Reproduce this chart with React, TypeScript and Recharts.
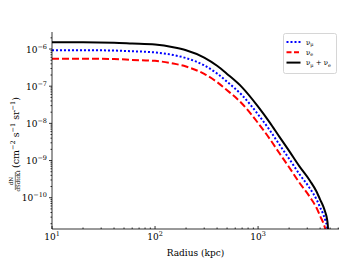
import { LineChart, Line, XAxis, YAxis, Legend } from "recharts"

// radius in kpc, flux values
const radius = [10, 20, 40, 60, 100, 150, 200, 300, 400, 500, 700, 1000, 1300, 1600, 2000, 2500, 3200, 3700, 4000, 4300, 4500, 4650, 4750, 4800, 4830]
const nuMu = [9.3e-7, 9.3e-7, 9.1e-7, 8.7e-7, 8.1e-7, 6.9e-7, 5.7e-7, 3.64e-7, 2.19e-7, 1.32e-7, 5.7e-8, 1.74e-8, 6.5e-9, 2.76e-9, 1.12e-9, 4.44e-10, 1.74e-10, 8.9e-11, 5.5e-11, 3.55e-11, 2.46e-11, 1.74e-11, 1.1e-11, 4.9e-12, 6e-13]
const nuE = [5.5e-7, 5.5e-7, 5.4e-7, 5.1e-7, 4.8e-7, 4.07e-7, 3.38e-7, 2.14e-7, 1.29e-7, 7.8e-8, 3.38e-8, 1.02e-8, 3.81e-9, 1.62e-9, 6.6e-10, 2.61e-10, 1.02e-10, 5.3e-11, 3.23e-11, 2.09e-11, 1.44e-11, 1.02e-11, 6.5e-12, 2.9e-12, 3.6e-13]
const nuTotal = [1.51e-6, 1.51e-6, 1.48e-6, 1.41e-6, 1.32e-6, 1.12e-6, 9.3e-7, 5.9e-7, 3.55e-7, 2.14e-7, 9.3e-8, 2.82e-8, 1.05e-8, 4.47e-9, 1.82e-9, 7.2e-10, 2.82e-10, 1.45e-10, 8.9e-11, 5.75e-11, 3.98e-11, 2.82e-11, 1.78e-11, 7.9e-12, 1e-12]

const xMajor = [10, 100, 1000]
const xMinor = [20, 30, 40, 50, 60, 70, 80, 90, 200, 300, 400, 500, 600, 700, 800, 900, 2000, 3000, 4000, 5000, 6000]
const yMajor = [1e-10, 1e-9, 1e-8, 1e-7, 1e-6]
const yMinor = [
  2e-11, 3e-11, 4e-11, 5e-11, 6e-11, 7e-11, 8e-11, 9e-11,
  2e-10, 3e-10, 4e-10, 5e-10, 6e-10, 7e-10, 8e-10, 9e-10,
  2e-9, 3e-9, 4e-9, 5e-9, 6e-9, 7e-9, 8e-9, 9e-9,
  2e-8, 3e-8, 4e-8, 5e-8, 6e-8, 7e-8, 8e-8, 9e-8,
  2e-7, 3e-7, 4e-7, 5e-7, 6e-7, 7e-7, 8e-7, 9e-7,
  2e-6,
]

const data = radius.map((r, i) => ({ r, mu: nuMu[i], e: nuE[i], total: nuTotal[i] }))

const FONT = "DejaVu Serif"

function exponent(v: number) {
  return String(Math.round(Math.log10(v))).replace("-", "\u2212")
}

function XTick(props: any) {
  const { x, y, payload } = props
  const major = xMajor.includes(payload.value)
  return (
    <g>
      <line x1={x} x2={x} y1={y} y2={y - (major ? 3 : 1.5)} stroke="#000" strokeWidth={0.8} />
      {major && (
        <text x={x} y={y + 11} textAnchor="middle" fontSize={9} fontFamily={FONT} fill="#000">
          10<tspan dy={-4} fontSize={6.5}>{exponent(payload.value)}</tspan>
        </text>
      )}
    </g>
  )
}

function YTick(props: any) {
  const { x, y, payload } = props
  const major = yMajor.includes(payload.value)
  return (
    <g>
      <line x1={x} x2={x - (major ? 3 : 1.5)} y1={y} y2={y} stroke="#000" strokeWidth={0.8} />
      {major && (
        <text x={x - 5} y={y + 3.5} textAnchor="end" fontSize={9} fontFamily={FONT} fill="#000">
          10<tspan dy={-4} fontSize={6.5}>{exponent(payload.value)}</tspan>
        </text>
      )}
    </g>
  )
}

function YLabel() {
  return (
    <g transform="translate(15,134) rotate(-90)" fontFamily={FONT} fill="#000">
      <text x={-47} y={-2} textAnchor="middle" fontSize={5.5}>dN</text>
      <line x1={-56} x2={-38} y1={0.3} y2={0.3} stroke="#000" strokeWidth={0.5} />
      <text x={-47} y={5} textAnchor="middle" fontSize={5.5}>dSdtdΩ</text>
      <text x={-34} y={3.5} fontSize={9.5}>
        (cm<tspan dy={-3.5} fontSize={6.5}>−2</tspan>
        <tspan dy={3.5}>{"\u00a0s"}</tspan>
        <tspan dy={-3.5} fontSize={6.5}>−1</tspan>
        <tspan dy={3.5}>{"\u00a0sr"}</tspan>
        <tspan dy={-3.5} fontSize={6.5}>−1</tspan>
        <tspan dy={3.5}>)</tspan>
      </text>
    </g>
  )
}

function LegendBox() {
  const rows = [
    { color: "#0000ff", dash: "2 2", sub1: "μ", extra: false },
    { color: "#ff0000", dash: "5 2.5", sub1: "e", extra: false },
    { color: "#000000", dash: undefined, sub1: "μ", extra: true },
  ]
  return (
    <svg width={55} height={42} style={{ display: "block" }}>
      <rect x={0.5} y={0.5} width={53} height={40} rx={2} fill="#fff" fillOpacity={0.8} stroke="#cccccc" strokeWidth={0.8} />
      {rows.map((row, i) => {
        const cy = 9 + i * 10.3
        return (
          <g key={i}>
            <line x1={3.5} x2={17.5} y1={cy} y2={cy} stroke={row.color} strokeWidth={2} strokeDasharray={row.dash} />
            <text x={23} y={cy + 2.5} fontSize={7} fontFamily={FONT} fill="#000">
              ν<tspan dy={1.5} fontSize={5}>{row.sub1}</tspan>
              {row.extra && (
                <>
                  <tspan dy={-1.5}>{"\u00a0+\u00a0ν"}</tspan>
                  <tspan dy={1.5} fontSize={5}>e</tspan>
                </>
              )}
            </text>
          </g>
        )
      })}
    </svg>
  )
}

export default function App() {
  return (
    <div style={{ position: "absolute", left: 0, top: 0, width: 349, height: 262, background: "#fff" }}>
      <LineChart width={349} height={262} data={data} margin={{ top: 32, right: 10, bottom: 0, left: 0 }}>
        <XAxis
          dataKey="r"
          type="number"
          scale="log"
          domain={[10, 6100]}
          allowDataOverflow
          ticks={[...xMajor, ...xMinor]}
          interval={0}
          tickSize={0}
          tickMargin={0}
          tick={<XTick />}
          axisLine={{ stroke: "#000", strokeWidth: 0.8 }}
          height={33}
          label={{
            value: "Radius (kpc)",
            position: "insideBottom",
            offset: 6,
            fontSize: 9,
            fontFamily: FONT,
            fill: "#000",
          }}
        />
        <XAxis xAxisId="top" orientation="top" type="number" domain={[0, 1]} height={0} tick={false} tickLine={false} axisLine={{ stroke: "#000", strokeWidth: 0.8 }} />
        <YAxis
          type="number"
          scale="log"
          domain={[1.44e-11, 2.87e-6]}
          allowDataOverflow
          ticks={[...yMajor, ...yMinor]}
          interval={0}
          tickSize={0}
          tickMargin={0}
          tick={<YTick />}
          axisLine={{ stroke: "#000", strokeWidth: 0.8 }}
          width={52}
          label={{ content: () => <YLabel /> }}
        />
        <YAxis yAxisId="right" orientation="right" type="number" domain={[0, 1]} width={0} tick={false} tickLine={false} axisLine={{ stroke: "#000", strokeWidth: 0.8 }} />
        <Legend
          layout="vertical"
          align="center"
          verticalAlign="middle"
          content={() => <LegendBox />}
          wrapperStyle={{ position: "absolute", left: 283, top: 33, width: 55, height: 42 }}
        />
        <Line dataKey="mu" type="monotone" stroke="#0000ff" strokeWidth={2} strokeDasharray="2 2" dot={false} isAnimationActive={false} />
        <Line dataKey="e" type="monotone" stroke="#ff0000" strokeWidth={2} strokeDasharray="7 3" dot={false} isAnimationActive={false} />
        <Line dataKey="total" type="monotone" stroke="#000000" strokeWidth={2} dot={false} isAnimationActive={false} />
      </LineChart>
    </div>
  )
}
